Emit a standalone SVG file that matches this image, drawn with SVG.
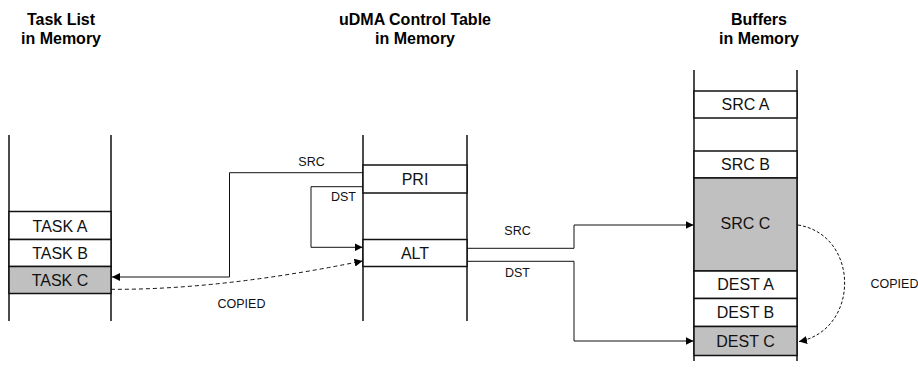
<svg xmlns="http://www.w3.org/2000/svg" width="918" height="371" viewBox="0 0 918 371">
<style>
.title{font-family:"Liberation Sans",Arial,sans-serif;font-size:16px;font-weight:bold;fill:#000;text-anchor:middle}
.cell{font-family:"Liberation Sans",Arial,sans-serif;font-size:16px;fill:#111;text-anchor:middle}
.lbl{font-family:"Liberation Sans",Arial,sans-serif;font-size:12.5px;fill:#111;text-anchor:middle}
.col{stroke:#111;stroke-width:1.5;fill:none}
.box{stroke:#111;stroke-width:1.5;fill:#fff}
.box.g{fill:#c0c0c0}
.conn{stroke:#111;stroke-width:1;fill:none}
.dash{stroke:#111;stroke-width:1;fill:none;stroke-dasharray:4 3}
</style>
<defs>
<marker id="ah" viewBox="0 0 10 10" refX="10" refY="5" markerWidth="8" markerHeight="8" markerUnits="userSpaceOnUse" orient="auto">
<path d="M0,0 L10,5 L0,10 Z" fill="#000"/>
</marker>
</defs>
<rect width="918" height="371" fill="#fff"/>

<g id="title-tasks">
<text class="title" x="61" y="24.5">Task List</text>
<text class="title" x="61" y="43.5">in Memory</text>
</g>
<g id="title-udma">
<text class="title" x="415" y="24.5">uDMA Control Table</text>
<text class="title" x="415" y="43.5">in Memory</text>
</g>
<g id="title-buffers">
<text class="title" x="759" y="24.5">Buffers</text>
<text class="title" x="759" y="43.5">in Memory</text>
</g>

<g id="task-list">
<line class="col" x1="9" y1="135" x2="9" y2="321"/>
<line class="col" x1="111" y1="135" x2="111" y2="321"/>
<g id="task-a"><rect class="box" x="9" y="211.5" width="102" height="28"/><text class="cell" x="60" y="231.5">TASK A</text></g>
<g id="task-b"><rect class="box" x="9" y="239.5" width="102" height="27"/><text class="cell" x="60" y="258.5">TASK B</text></g>
<g id="task-c"><rect class="box g" x="9" y="266.5" width="102" height="27"/><text class="cell" x="60" y="285.5">TASK C</text></g>
</g>

<g id="udma-table">
<line class="col" x1="363" y1="135" x2="363" y2="321"/>
<line class="col" x1="467" y1="135" x2="467" y2="321"/>
<g id="pri"><rect class="box" x="363" y="165" width="104" height="28"/><text class="cell" x="415" y="184.5">PRI</text></g>
<g id="alt"><rect class="box" x="363" y="239.5" width="104" height="27"/><text class="cell" x="415" y="258.5">ALT</text></g>
</g>

<g id="buffers">
<line class="col" x1="694" y1="70" x2="694" y2="361"/>
<line class="col" x1="797" y1="70" x2="797" y2="361"/>
<g id="src-a"><rect class="box" x="694" y="91" width="103" height="27"/><text class="cell" x="745.5" y="110">SRC A</text></g>
<g id="src-b"><rect class="box" x="694" y="151" width="103" height="27"/><text class="cell" x="745.5" y="170">SRC B</text></g>
<g id="src-c"><rect class="box g" x="694" y="178" width="103" height="93"/><text class="cell" x="745.5" y="229">SRC C</text></g>
<g id="dest-a"><rect class="box" x="694" y="271" width="103" height="27.5"/><text class="cell" x="745.5" y="290">DEST A</text></g>
<g id="dest-b"><rect class="box" x="694" y="298.5" width="103" height="28"/><text class="cell" x="745.5" y="318">DEST B</text></g>
<g id="dest-c"><rect class="box g" x="694" y="326.5" width="103" height="29"/><text class="cell" x="745.5" y="346.5">DEST C</text></g>
</g>

<g id="connectors">
<polyline class="conn" points="363,172.7 229.5,172.7 229.5,277 112,277" marker-end="url(#ah)"/>
<polyline class="conn" points="363,186.7 311,186.7 311,247.3 362.5,247.3" marker-end="url(#ah)"/>
<path class="dash" d="M111,289.3 Q220,290 362.5,261" marker-end="url(#ah)"/>
<polyline class="conn" points="467,248.3 574,248.3 574,225 693.5,225" marker-end="url(#ah)"/>
<polyline class="conn" points="467,261.3 574,261.3 574,341 693.5,341" marker-end="url(#ah)"/>
<path class="dash" style="stroke-dasharray:3 2" d="M798,225 C860,235 860,330 799,341.5" marker-end="url(#ah)"/>
<text class="lbl" x="311.5" y="166">SRC</text>
<text class="lbl" x="343.5" y="201">DST</text>
<text class="lbl" x="241.5" y="308">COPIED</text>
<text class="lbl" x="517.5" y="235">SRC</text>
<text class="lbl" x="517.5" y="277">DST</text>
<text class="lbl" x="894.5" y="288">COPIED</text>
</g>
</svg>
